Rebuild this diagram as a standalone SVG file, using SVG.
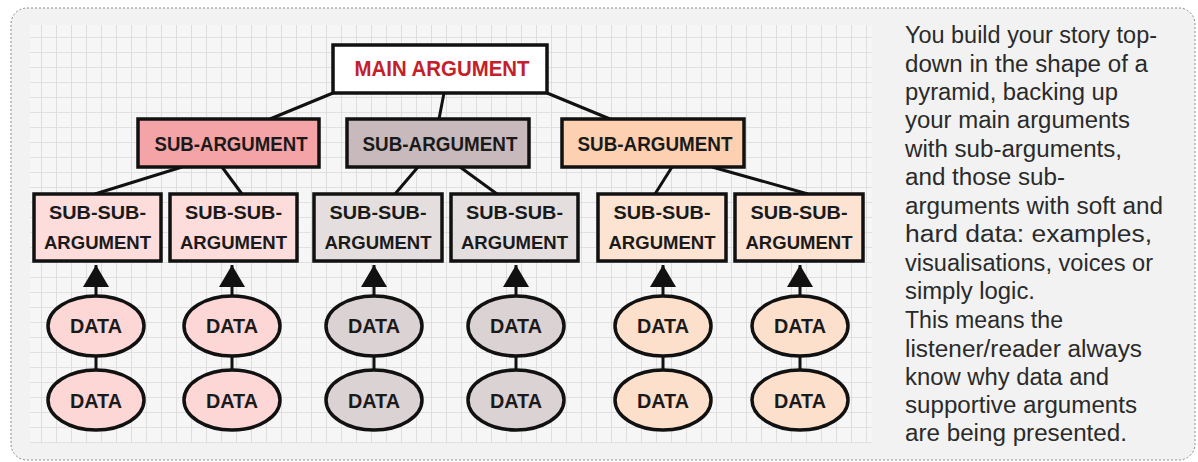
<svg xmlns="http://www.w3.org/2000/svg" width="1198" height="462" viewBox="0 0 1198 462">
<defs>
<pattern id="grid" patternUnits="userSpaceOnUse" x="41" y="37" width="15" height="15">
<rect width="15" height="15" fill="#f6f6f6"/>
<path d="M0,0 H15 M0,0 V15" stroke="#d9d9d9" stroke-width="1.6" fill="none"/>
</pattern>
<marker id="arr" markerUnits="userSpaceOnUse" markerWidth="24" markerHeight="26" refX="22" refY="13" orient="auto">
<path d="M0,0 L22,13 L0,26 z" fill="#111"/>
</marker>
<style>
.box{stroke:#111;stroke-width:3.5;}
.con{stroke:#111;stroke-width:3;fill:none;}
.up{marker-end:url(#arr);}
.lab{font-family:"Liberation Sans",Arial,sans-serif;font-weight:bold;fill:#1a1a1a;text-anchor:middle;}
.main{fill:#c3202b;font-size:22px;}
.sub{font-size:21px;}
.ss{font-size:19px;}
.dt{font-size:20px;}
.p1{fill:#f4a3a6;} .p2{fill:#fddcdc;} .p3{fill:#fcd7d6;}
.g1{fill:#c8b9bc;} .g2{fill:#e5dedf;} .g3{fill:#dbd2d4;}
.o1{fill:#fcd0b0;} .o2{fill:#fde3d2;} .o3{fill:#fde0cc;}
.txt{font-family:"Liberation Sans",Arial,sans-serif;font-size:23px;fill:#2a2a2a;}
</style>
</defs>
<rect x="11" y="8" width="1184" height="452" rx="16" fill="#f2f2f2" stroke="#8a8a8a" stroke-width="1" stroke-dasharray="2,2"/>
<rect x="30" y="25" width="842" height="418" fill="url(#grid)"/>
<g id="connectors">
<path class="con" d="M333,93 L270,119 M444,93 L439,119 M547,93 L610,119"/>
<path class="con" d="M182,167 L95,194 M222,167 L242,194 M418,167 L395,194 M460,167 L497,194 M672,167 L655,194 M712,167 L808,194"/>
<line class="con up" x1="96" y1="296" x2="96" y2="265"/>
<line class="con up" x1="232" y1="296" x2="232" y2="265"/>
<line class="con up" x1="374" y1="296" x2="374" y2="265"/>
<line class="con up" x1="516" y1="296" x2="516" y2="265"/>
<line class="con up" x1="663" y1="296" x2="663" y2="265"/>
<line class="con up" x1="800" y1="296" x2="800" y2="265"/>
<path class="con" d="M96,355 V371 M232,355 V371 M374,355 V371 M516,355 V371 M663,355 V371 M800,355 V371"/>
</g>
<g id="main-argument">
<rect class="box" x="333" y="45" width="214" height="48" fill="#ffffff"/>
<text class="lab main" x="442" y="76" textLength="175" lengthAdjust="spacingAndGlyphs">MAIN ARGUMENT</text>
</g>
<g id="sub-argument-1">
<rect class="box p1" x="138" y="119" width="181" height="48"/>
<text class="lab sub" x="231" y="151" textLength="153" lengthAdjust="spacingAndGlyphs">SUB-ARGUMENT</text>
</g>
<g id="sub-argument-2">
<rect class="box g1" x="347" y="119" width="182" height="48"/>
<text class="lab sub" x="440" y="151" textLength="155" lengthAdjust="spacingAndGlyphs">SUB-ARGUMENT</text>
</g>
<g id="sub-argument-3">
<rect class="box o1" x="562" y="119" width="182" height="48"/>
<text class="lab sub" x="655" y="151" textLength="155" lengthAdjust="spacingAndGlyphs">SUB-ARGUMENT</text>
</g>
<g id="sub-sub-1">
<rect class="box p2" x="34" y="194" width="127" height="67"/>
<text class="lab ss" x="97.5" y="219" textLength="97" lengthAdjust="spacingAndGlyphs">SUB-SUB-</text>
<text class="lab ss" x="97.5" y="249" textLength="107" lengthAdjust="spacingAndGlyphs">ARGUMENT</text>
</g>
<g id="sub-sub-2">
<rect class="box p2" x="170" y="194" width="127" height="67"/>
<text class="lab ss" x="233.5" y="219" textLength="97" lengthAdjust="spacingAndGlyphs">SUB-SUB-</text>
<text class="lab ss" x="233.5" y="249" textLength="107" lengthAdjust="spacingAndGlyphs">ARGUMENT</text>
</g>
<g id="sub-sub-3">
<rect class="box g2" x="314" y="194" width="128" height="67"/>
<text class="lab ss" x="378" y="219" textLength="97" lengthAdjust="spacingAndGlyphs">SUB-SUB-</text>
<text class="lab ss" x="378" y="249" textLength="107" lengthAdjust="spacingAndGlyphs">ARGUMENT</text>
</g>
<g id="sub-sub-4">
<rect class="box g2" x="451" y="194" width="127" height="67"/>
<text class="lab ss" x="514.5" y="219" textLength="97" lengthAdjust="spacingAndGlyphs">SUB-SUB-</text>
<text class="lab ss" x="514.5" y="249" textLength="107" lengthAdjust="spacingAndGlyphs">ARGUMENT</text>
</g>
<g id="sub-sub-5">
<rect class="box o2" x="598" y="194" width="128" height="67"/>
<text class="lab ss" x="662" y="219" textLength="97" lengthAdjust="spacingAndGlyphs">SUB-SUB-</text>
<text class="lab ss" x="662" y="249" textLength="107" lengthAdjust="spacingAndGlyphs">ARGUMENT</text>
</g>
<g id="sub-sub-6">
<rect class="box o2" x="735" y="194" width="128" height="67"/>
<text class="lab ss" x="799" y="219" textLength="97" lengthAdjust="spacingAndGlyphs">SUB-SUB-</text>
<text class="lab ss" x="799" y="249" textLength="107" lengthAdjust="spacingAndGlyphs">ARGUMENT</text>
</g>
<g id="data-1a"><ellipse class="box p3" cx="96" cy="326" rx="48" ry="30"/><text class="lab dt" x="96" y="333" textLength="52" lengthAdjust="spacingAndGlyphs">DATA</text></g>
<g id="data-1b"><ellipse class="box p3" cx="96" cy="400" rx="48" ry="30"/><text class="lab dt" x="96" y="408" textLength="52" lengthAdjust="spacingAndGlyphs">DATA</text></g>
<g id="data-2a"><ellipse class="box p3" cx="232" cy="326" rx="48" ry="30"/><text class="lab dt" x="232" y="333" textLength="52" lengthAdjust="spacingAndGlyphs">DATA</text></g>
<g id="data-2b"><ellipse class="box p3" cx="232" cy="400" rx="48" ry="30"/><text class="lab dt" x="232" y="408" textLength="52" lengthAdjust="spacingAndGlyphs">DATA</text></g>
<g id="data-3a"><ellipse class="box g3" cx="374" cy="326" rx="48" ry="30"/><text class="lab dt" x="374" y="333" textLength="52" lengthAdjust="spacingAndGlyphs">DATA</text></g>
<g id="data-3b"><ellipse class="box g3" cx="374" cy="400" rx="48" ry="30"/><text class="lab dt" x="374" y="408" textLength="52" lengthAdjust="spacingAndGlyphs">DATA</text></g>
<g id="data-4a"><ellipse class="box g3" cx="516" cy="326" rx="48" ry="30"/><text class="lab dt" x="516" y="333" textLength="52" lengthAdjust="spacingAndGlyphs">DATA</text></g>
<g id="data-4b"><ellipse class="box g3" cx="516" cy="400" rx="48" ry="30"/><text class="lab dt" x="516" y="408" textLength="52" lengthAdjust="spacingAndGlyphs">DATA</text></g>
<g id="data-5a"><ellipse class="box o3" cx="663" cy="326" rx="48" ry="30"/><text class="lab dt" x="663" y="333" textLength="52" lengthAdjust="spacingAndGlyphs">DATA</text></g>
<g id="data-5b"><ellipse class="box o3" cx="663" cy="400" rx="48" ry="30"/><text class="lab dt" x="663" y="408" textLength="52" lengthAdjust="spacingAndGlyphs">DATA</text></g>
<g id="data-6a"><ellipse class="box o3" cx="800" cy="326" rx="48" ry="30"/><text class="lab dt" x="800" y="333" textLength="52" lengthAdjust="spacingAndGlyphs">DATA</text></g>
<g id="data-6b"><ellipse class="box o3" cx="800" cy="400" rx="48" ry="30"/><text class="lab dt" x="800" y="408" textLength="52" lengthAdjust="spacingAndGlyphs">DATA</text></g>
<g id="description">
<text class="txt" x="905" y="43" textLength="252" lengthAdjust="spacingAndGlyphs">You build your story top-</text>
<text class="txt" x="905" y="71.5" textLength="243" lengthAdjust="spacingAndGlyphs">down in the shape of a</text>
<text class="txt" x="905" y="100" textLength="213" lengthAdjust="spacingAndGlyphs">pyramid, backing up</text>
<text class="txt" x="905" y="128" textLength="225" lengthAdjust="spacingAndGlyphs">your main arguments</text>
<text class="txt" x="905" y="156.5" textLength="217" lengthAdjust="spacingAndGlyphs">with sub-arguments,</text>
<text class="txt" x="905" y="185" textLength="160" lengthAdjust="spacingAndGlyphs">and those sub-</text>
<text class="txt" x="905" y="213.5" textLength="258" lengthAdjust="spacingAndGlyphs">arguments with soft and</text>
<text class="txt" x="905" y="242" textLength="247" lengthAdjust="spacingAndGlyphs">hard data: examples,</text>
<text class="txt" x="905" y="271" textLength="248" lengthAdjust="spacingAndGlyphs">visualisations, voices or</text>
<text class="txt" x="905" y="298.5" textLength="130" lengthAdjust="spacingAndGlyphs">simply logic.</text>
<text class="txt" x="905" y="328" textLength="158" lengthAdjust="spacingAndGlyphs">This means the</text>
<text class="txt" x="905" y="356.5" textLength="237" lengthAdjust="spacingAndGlyphs">listener/reader always</text>
<text class="txt" x="905" y="385" textLength="204" lengthAdjust="spacingAndGlyphs">know why data and</text>
<text class="txt" x="905" y="413" textLength="232" lengthAdjust="spacingAndGlyphs">supportive arguments</text>
<text class="txt" x="905" y="441" textLength="222" lengthAdjust="spacingAndGlyphs">are being presented.</text>
</g>
</svg>
